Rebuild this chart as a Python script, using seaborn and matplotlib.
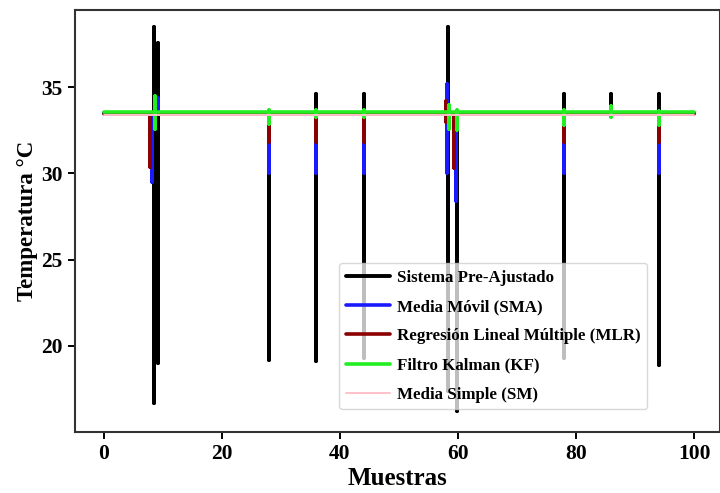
import pandas as pd
import matplotlib.pyplot as plt
import seaborn as sns

# Values.
# Each series sits on a flat baseline and has vertical spikes at some samples.
x_start, x_end = 0, 100

sys_base = 33.5
sys_x  = [8.5, 9.2, 28.0, 36.0, 44.0, 58.3, 59.8, 78.0, 86.0, 94.0]
sys_hi = [38.5, 37.6, 33.5, 34.6, 34.6, 38.5, 33.5, 34.6, 34.6, 34.6]
sys_lo = [16.7, 19.0, 19.2, 19.1, 19.3, 17.4, 16.2, 19.3, 33.5, 18.9]

sma_base = 33.5
sma_x  = [8.2, 9.1, 28.0, 36.0, 44.0, 58.1, 59.6, 78.0, 94.0]
sma_hi = [33.5, 34.4, 33.5, 33.5, 33.5, 35.2, 33.5, 33.5, 33.5]
sma_lo = [29.5, 33.5, 30.0, 30.0, 30.0, 30.0, 28.4, 30.0, 30.0]

mlr_base = 33.45
mlr_x  = [7.9, 28.0, 36.0, 44.0, 58.0, 59.4, 78.0, 94.0]
mlr_hi = [33.45, 33.45, 33.45, 33.45, 34.2, 33.45, 33.45, 33.45]
mlr_lo = [30.4, 31.8, 31.8, 31.8, 33.0, 30.3, 31.8, 31.8]

kf_base = 33.55
kf_x  = [8.6, 28.0, 36.0, 44.0, 58.5, 59.8, 78.0, 86.0, 94.0]
kf_hi = [34.5, 33.7, 33.7, 33.7, 34.0, 33.7, 33.7, 33.9, 33.6]
kf_lo = [32.6, 32.9, 33.3, 33.3, 32.6, 32.5, 32.8, 33.3, 32.8]

sm_base = 33.4

labels = ["Sistema Pre-Ajustado", "Media Móvil (SMA)",
          "Regresión Lineal Múltiple (MLR)", "Filtro Kalman (KF)",
          "Media Simple (SM)"]
colors = ["black", "#1a1aff", "#8b0000", "#22ee22", "#ffc0cb"]
widths = [2.8, 2.6, 2.6, 2.6, 1.4]


def spike_path(base, xs, hi, lo):
    px, py = [x_start], [base]
    for x, h, l in zip(xs, hi, lo):
        px += [x, x, x, x]
        py += [base, h, l, base]
    px.append(x_end)
    py.append(base)
    return pd.DataFrame({"Muestras": px, "Temp": py})


series = [
    spike_path(sys_base, sys_x, sys_hi, sys_lo),
    spike_path(sma_base, sma_x, sma_hi, sma_lo),
    spike_path(mlr_base, mlr_x, mlr_hi, mlr_lo),
    spike_path(kf_base, kf_x, kf_hi, kf_lo),
    spike_path(sm_base, [], [], []),
]

sns.set_style("white")
plt.rcParams["font.family"] = ["Liberation Serif", "DejaVu Serif"]
plt.rcParams["font.weight"] = "bold"
plt.rcParams["text.color"] = "black"
plt.rcParams["axes.labelcolor"] = "black"
plt.rcParams["xtick.color"] = "black"
plt.rcParams["ytick.color"] = "black"

fig = plt.figure(figsize=(7.2, 4.93), dpi=100)
ax = fig.add_axes([0.104, 0.124, 0.896, 0.856])

for df, lab, col, lw in zip(series, labels, colors, widths):
    sns.lineplot(data=df, x="Muestras", y="Temp", sort=False, estimator=None,
                 color=col, linewidth=lw, label=lab, ax=ax)

ax.set_xlim(-4.9, 104.4)
ax.set_ylim(15.0, 39.5)
ax.set_xticks([0, 20, 40, 60, 80, 100])
ax.set_yticks([20, 25, 30, 35])
ax.tick_params(axis="both", direction="out", length=5, width=1.4,
               labelsize=15.5, bottom=True, left=True, pad=4)
for lab in ax.get_xticklabels() + ax.get_yticklabels():
    lab.set_fontweight("bold")

ax.set_xlabel("Muestras", fontsize=18, fontweight="bold", labelpad=2)
ax.set_ylabel("Temperatura °C", fontsize=16.5, fontweight="bold", labelpad=2)

for side in ["left", "bottom", "top", "right"]:
    ax.spines[side].set_color("#333333")
    ax.spines[side].set_linewidth(1.5)

leg = ax.legend(loc="upper left", bbox_to_anchor=(0.41, 0.40), borderaxespad=0,
                prop={"family": "Liberation Serif", "weight": "bold", "size": 12.2},
                handlelength=2.6, handletextpad=0.4, labelspacing=0.78,
                framealpha=0.75, edgecolor="#cccccc", fancybox=True)

plt.savefig("out.png", dpi=100)
